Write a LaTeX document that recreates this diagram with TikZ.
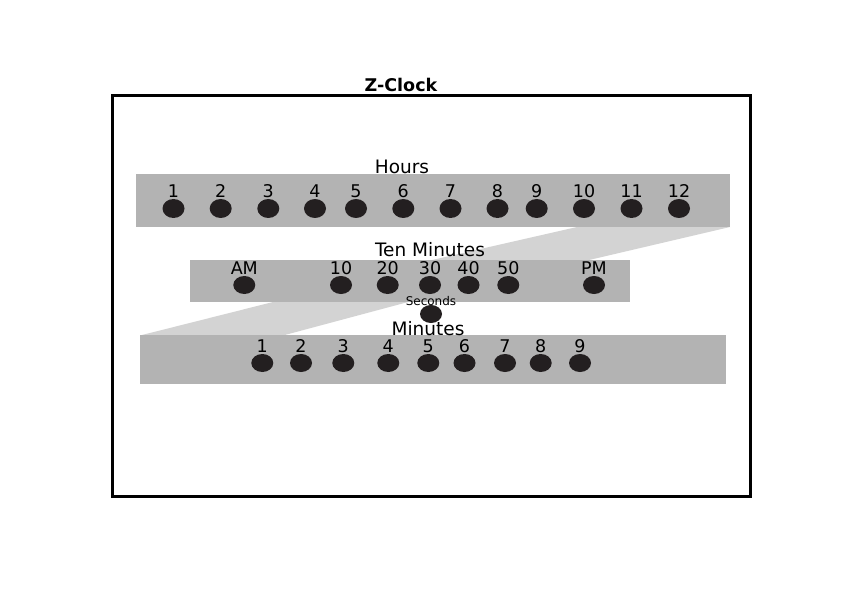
\documentclass[tikz,border=0pt]{standalone}
\usepackage{fontspec}
\setmainfont{DejaVu Sans}
\usetikzlibrary{shapes.geometric}
\definecolor{bandgray}{HTML}{B3B3B3}
\definecolor{linkgray}{HTML}{D3D3D3}
\definecolor{dotblack}{HTML}{231F20}
\tikzset{
  band/.style={fill=bandgray, draw=none},
  link/.style={fill=linkgray, draw=none},
  dot/.style={ellipse, fill=dotblack, draw=none, inner sep=0pt, minimum width=22pt, minimum height=19pt},
  num/.style={anchor=base, inner sep=0pt, font=\fontsize{17.5}{17.5}\selectfont},
  bandtitle/.style={anchor=base, inner sep=0pt, font=\fontsize{18.5}{18.5}\selectfont},
  smalltitle/.style={anchor=base, inner sep=0pt, font=\fontsize{12}{12}\selectfont},
  frame/.style={draw=black, line width=3.2pt},
}
\begin{document}
\begin{tikzpicture}[x=1pt, y=-1pt]
\useasboundingbox (0,0) rectangle (843,596);
% outer frame
\node[draw=none, fill=none, inner sep=0pt, minimum width=637pt, minimum height=400pt] (frame) at (431.5,296) {};
\draw[frame] (frame.north west) rectangle (frame.south east);
\node[anchor=base, inner sep=0pt, font=\fontsize{17.5}{17.5}\selectfont\bfseries] (title) at (401,91.5) {Z-Clock};
% connecting parallelograms
\path[link] (577,227) -- (730,227) -- (587,260.5) -- (430,260.5) -- cycle;
\path[link] (275,301.5) -- (410,301.5) -- (283,335.5) -- (140,335.5) -- cycle;
% bands
\node[band, inner sep=0pt, minimum width=594pt, minimum height=53pt] (hoursband) at (433,200.5) {};
\node[band, inner sep=0pt, minimum width=439.5pt, minimum height=42pt] (tenband) at (409.75,281) {};
\node[band, inner sep=0pt, minimum width=586pt, minimum height=48.5pt] (minband) at (433,359.25) {};
% band titles
\node[bandtitle] (hourstitle) at (402,173.5) {Hours};
\node[bandtitle] (tentitle) at (430,256.5) {Ten Minutes};
\node[bandtitle] (mintitle) at (428,335) {Minutes};
\node[smalltitle] (sectitle) at (431,305) {Seconds};
% hours
\foreach \lab/\x [count=\i] in {1/173.5,2/220.7,3/268.3,4/315,5/356,6/403.3,7/450.5,8/497.5,9/536.7,10/584,11/631.5,12/679}{
  \node[dot] (h\i) at (\x,208.5) {};
  \node[num] (hl\i) at (\x,197) {\lab};
}
% ten minutes
\foreach \lab/\x [count=\i] in {AM/244.3,10/341,20/387.7,30/430,40/468.5,50/508.3,PM/594}{
  \node[dot, minimum height=18pt] (t\i) at (\x,285) {};
  \node[num] (tl\i) at (\x,274) {\lab};
}
% seconds
\node[dot, minimum height=18pt] (sec) at (431,314) {};
% minutes
\foreach \lab/\x [count=\i] in {1/262.3,2/301,3/343.3,4/388.3,5/428.3,6/464.5,7/505,8/540.7,9/580}{
  \node[dot, minimum height=18pt] (m\i) at (\x,363) {};
  \node[num] (ml\i) at (\x,352) {\lab};
}
\end{tikzpicture}
\end{document}
